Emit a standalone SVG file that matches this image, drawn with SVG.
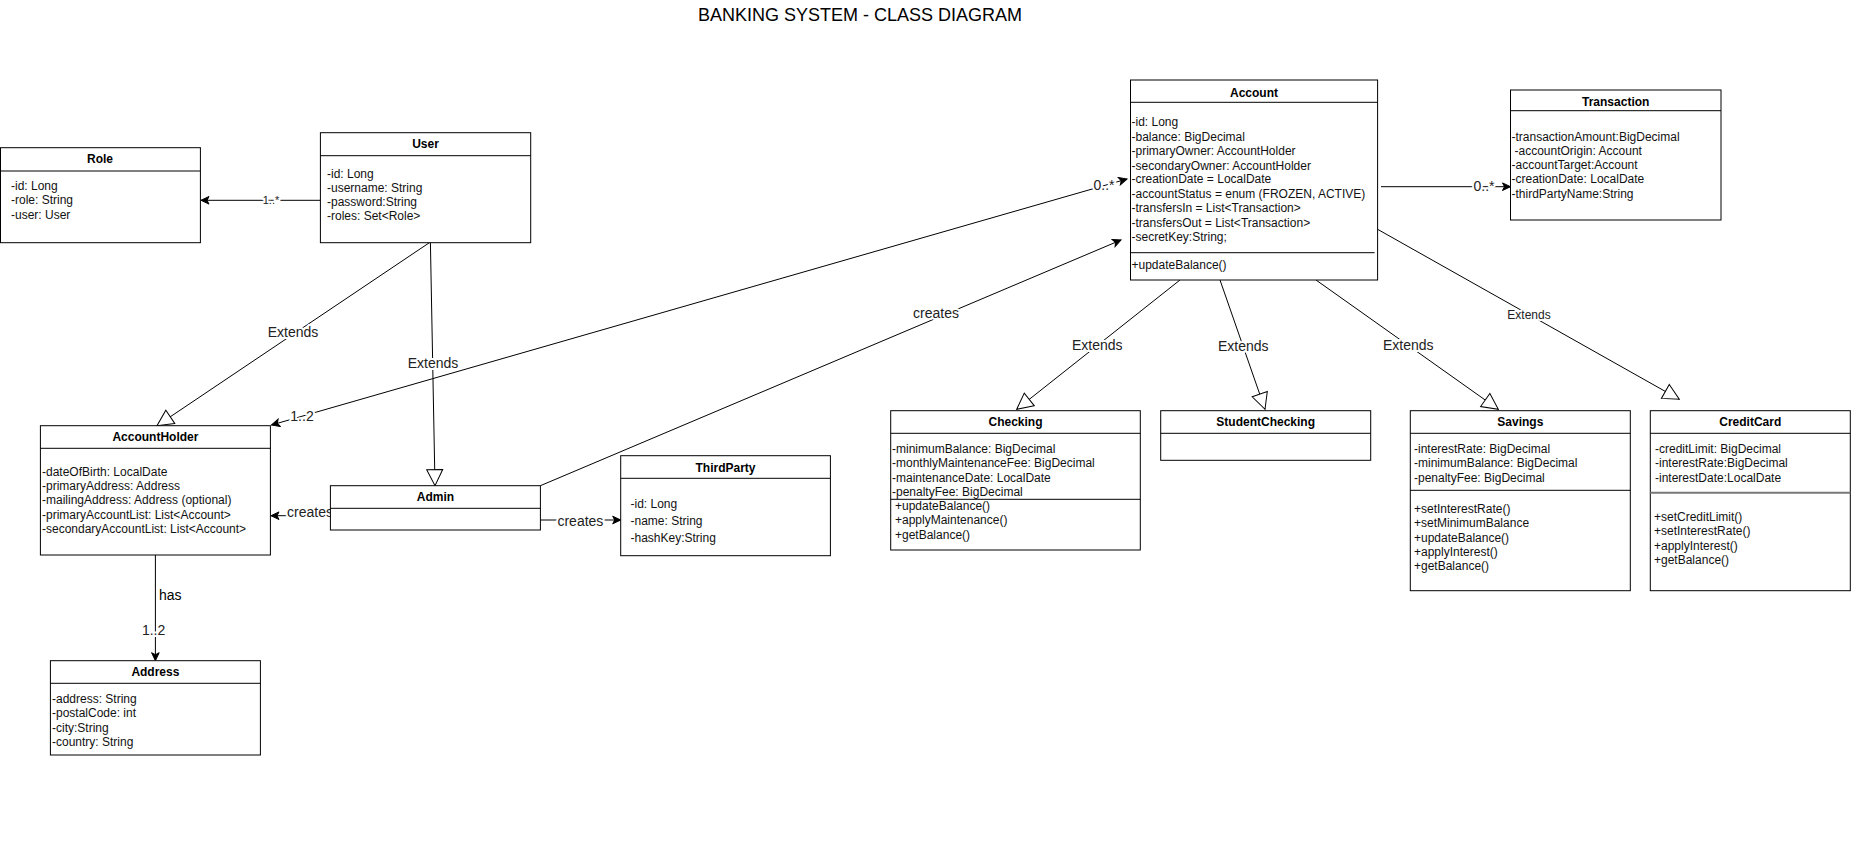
<svg xmlns="http://www.w3.org/2000/svg" width="1853" height="856" viewBox="0 0 1853 856">
<style>
.bg{fill:#fff}
.box{fill:#fff;stroke:#000;stroke-width:1}
.ln{stroke:#000;stroke-width:1;fill:none}
text{font-family:"Liberation Sans",Arial,Helvetica,sans-serif;fill:#000}
.t{font-size:12px;fill:#111}
.h{font-size:12px;font-weight:bold;text-anchor:middle}
.lbl{font-size:14px;text-anchor:middle;paint-order:stroke;stroke:#fff;stroke-width:4px;stroke-linejoin:round;fill:#222}
.sm{font-size:11px}
.md{font-size:12px}
.edge{stroke:#000;stroke-width:1;fill:none}
.ext{marker-end:url(#tri)}
.as{marker-end:url(#arr)}
</style>
<defs>
<marker id="arr" viewBox="0 0 10 10" refX="9" refY="5" markerWidth="10" markerHeight="10" markerUnits="userSpaceOnUse" orient="auto-start-reverse"><path d="M1,1.2 L9,5 L1,8.8 L3,5 Z" fill="#000" stroke="#000" stroke-width="1"/></marker>
<marker id="tri" viewBox="0 0 18 18" refX="17" refY="9" markerWidth="18" markerHeight="18" markerUnits="userSpaceOnUse" orient="auto"><path d="M1,1 L17,9 L1,17 Z" fill="#fff" stroke="#000" stroke-width="1"/></marker>
</defs>
<rect class="bg" x="0" y="0" width="1853" height="856"/>
<text x="860" y="20.5" font-size="18" text-anchor="middle" fill="#111">BANKING SYSTEM - CLASS DIAGRAM</text>

<g id="connectors">
<path class="edge as" d="M320.4,200.3 L201,200.3"/>
<text class="lbl sm" x="271" y="204">1..*</text>
<path class="edge ext" d="M430.4,242 L157,425.7"/>
<text class="lbl" x="293" y="337">Extends</text>
<path class="edge ext" d="M430.4,242 L435,485.7"/>
<text class="lbl" x="433" y="368">Extends</text>
<path class="edge" d="M1127,179 L271.5,425" marker-start="url(#arr)" marker-end="url(#arr)"/>
<text class="lbl" x="302" y="421">1..2</text>
<text class="lbl" x="1104" y="190">0..*</text>
<path class="edge as" d="M540.4,485.7 L1121,240"/>
<text class="lbl" x="936" y="318">creates</text>
<path class="edge as" d="M330.4,515.7 L271,515.7"/>
<text class="lbl" x="310" y="517">creates</text>
<path class="edge as" d="M540.4,520 L620.7,520"/>
<text class="lbl" x="580.4" y="526">creates</text>
<path class="edge as" d="M155.4,555 L155.4,660.7"/>
<text x="159" y="600" font-size="14" fill="#222">has</text>
<text class="lbl" x="153.6" y="635">1..2</text>
<path class="edge as" d="M1381,186.7 L1510.5,186.7"/>
<text class="lbl" x="1484" y="191">0..*</text>
<path class="edge ext" d="M1180,280 L1016.7,409.3"/>
<text class="lbl" x="1097.3" y="350">Extends</text>
<path class="edge ext" d="M1220,280 L1265,409.3"/>
<text class="lbl" x="1243.3" y="351">Extends</text>
<path class="edge ext" d="M1316,280 L1498.3,409.3"/>
<text class="lbl" x="1408.3" y="350">Extends</text>
<path class="edge ext" d="M1377.6,229.3 L1679.3,399.3"/>
<text class="lbl md" x="1529" y="318.5">Extends</text>
</g>

<g id="Role">
<rect class="box" x="0.5" y="147.7" width="199.9" height="95"/>
<line class="ln" x1="0.5" y1="171" x2="200.4" y2="171"/>
<text class="h" x="100" y="163.3">Role</text>
<text class="t" x="11" y="190">-id: Long</text>
<text class="t" x="11" y="204.3">-role: String</text>
<text class="t" x="11" y="219">-user: User</text>
</g>

<g id="User">
<rect class="box" x="320.4" y="132.7" width="210.3" height="110"/>
<line class="ln" x1="320.4" y1="155.7" x2="530.7" y2="155.7"/>
<text class="h" x="425.5" y="148.3">User</text>
<text class="t" x="327" y="177.5">-id: Long</text>
<text class="t" x="327" y="191.7">-username: String</text>
<text class="t" x="327" y="206.2">-password:String</text>
<text class="t" x="327" y="220.4">-roles: Set&lt;Role&gt;</text>
</g>

<g id="AccountHolder">
<rect class="box" x="40.4" y="425.7" width="230" height="129.3"/>
<line class="ln" x1="40.4" y1="448.3" x2="270.4" y2="448.3"/>
<text class="h" x="155.4" y="441">AccountHolder</text>
<text class="t" x="42" y="476.3">-dateOfBirth: LocalDate</text>
<text class="t" x="42" y="490.3">-primaryAddress: Address</text>
<text class="t" x="42" y="504.3">-mailingAddress: Address (optional)</text>
<text class="t" x="42" y="519">-primaryAccountList: List&lt;Account&gt;</text>
<text class="t" x="42" y="533">-secondaryAccountList: List&lt;Account&gt;</text>
</g>

<g id="Address">
<rect class="box" x="50.4" y="660.7" width="210" height="94.3"/>
<line class="ln" x1="50.4" y1="683.3" x2="260.4" y2="683.3"/>
<text class="h" x="155.4" y="676">Address</text>
<text class="t" x="52" y="702.5">-address: String</text>
<text class="t" x="52" y="716.9">-postalCode: int</text>
<text class="t" x="52" y="731.9">-city:String</text>
<text class="t" x="52" y="745.9">-country: String</text>
</g>

<g id="Admin">
<rect class="box" x="330.4" y="485.7" width="210" height="44.3"/>
<line class="ln" x1="330.4" y1="508.3" x2="540.4" y2="508.3"/>
<text class="h" x="435.4" y="501">Admin</text>
</g>

<g id="ThirdParty">
<rect class="box" x="620.7" y="455.7" width="209.7" height="100"/>
<line class="ln" x1="620.7" y1="478.3" x2="830.4" y2="478.3"/>
<text class="h" x="725.5" y="471.5">ThirdParty</text>
<text class="t" x="630.5" y="507.6">-id: Long</text>
<text class="t" x="630.5" y="524.6">-name: String</text>
<text class="t" x="630.5" y="541.6">-hashKey:String</text>
</g>

<g id="Account">
<rect class="box" x="1130.5" y="80" width="247.1" height="200"/>
<line class="ln" x1="1130.5" y1="102.3" x2="1377.6" y2="102.3"/>
<text class="h" x="1254" y="97">Account</text>
<text class="t" x="1131.5" y="126">-id: Long</text>
<text class="t" x="1131.5" y="140.5">-balance: BigDecimal</text>
<text class="t" x="1131.5" y="155">-primaryOwner: AccountHolder</text>
<text class="t" x="1131.5" y="169.8">-secondaryOwner: AccountHolder</text>
<text class="t" x="1131.5" y="183.3">-creationDate = LocalDate</text>
<text class="t" x="1131.5" y="197.6">-accountStatus = enum (FROZEN, ACTIVE)</text>
<text class="t" x="1131.5" y="212">-transfersIn = List&lt;Transaction&gt;</text>
<text class="t" x="1131.5" y="226.5">-transfersOut = List&lt;Transaction&gt;</text>
<text class="t" x="1131.5" y="241">-secretKey:String;</text>
<line class="ln" x1="1130.5" y1="252.7" x2="1374.6" y2="252.7"/>
<text class="t" x="1131.5" y="269.3">+updateBalance()</text>
</g>

<g id="Transaction">
<rect class="box" x="1510.5" y="90" width="210.5" height="130"/>
<line class="ln" x1="1510.5" y1="110.7" x2="1721" y2="110.7"/>
<text class="h" x="1615.7" y="106">Transaction</text>
<text class="t" x="1511.5" y="141">-transactionAmount:BigDecimal</text>
<text class="t" x="1514.5" y="155">-accountOrigin: Account</text>
<text class="t" x="1511.5" y="169.3">-accountTarget:Account</text>
<text class="t" x="1511.5" y="183.3">-creationDate: LocalDate</text>
<text class="t" x="1511.5" y="197.6">-thirdPartyName:String</text>
</g>

<g id="Checking">
<rect class="box" x="890.7" y="410.7" width="249.6" height="139.3"/>
<line class="ln" x1="890.7" y1="433.3" x2="1140.3" y2="433.3"/>
<text class="h" x="1015.5" y="426">Checking</text>
<text class="t" x="892" y="453.3">-minimumBalance: BigDecimal</text>
<text class="t" x="892" y="467.3">-monthlyMaintenanceFee: BigDecimal</text>
<text class="t" x="892" y="482">-maintenanceDate: LocalDate</text>
<text class="t" x="892" y="496.3">-penaltyFee: BigDecimal</text>
<line class="ln" x1="890.7" y1="499.3" x2="1140.3" y2="499.3"/>
<text class="t" x="895" y="510">+updateBalance()</text>
<text class="t" x="895" y="524.3">+applyMaintenance()</text>
<text class="t" x="895" y="539">+getBalance()</text>
</g>

<g id="StudentChecking">
<rect class="box" x="1160.7" y="410.7" width="210" height="49.6"/>
<line class="ln" x1="1160.7" y1="433.3" x2="1370.7" y2="433.3"/>
<text class="h" x="1265.7" y="426">StudentChecking</text>
</g>

<g id="Savings">
<rect class="box" x="1410.3" y="410.7" width="220" height="180"/>
<line class="ln" x1="1410.3" y1="433.3" x2="1630.3" y2="433.3"/>
<text class="h" x="1520.3" y="426">Savings</text>
<text class="t" x="1414" y="453.3">-interestRate: BigDecimal</text>
<text class="t" x="1414" y="467.3">-minimumBalance: BigDecimal</text>
<text class="t" x="1414" y="482">-penaltyFee: BigDecimal</text>
<line class="ln" x1="1410.3" y1="490.3" x2="1630.3" y2="490.3"/>
<text class="t" x="1414" y="513.3">+setInterestRate()</text>
<text class="t" x="1414" y="527">+setMinimumBalance</text>
<text class="t" x="1414" y="542">+updateBalance()</text>
<text class="t" x="1414" y="556.3">+applyInterest()</text>
<text class="t" x="1414" y="570">+getBalance()</text>
</g>

<g id="CreditCard">
<rect class="box" x="1650.3" y="410.7" width="200" height="180"/>
<line class="ln" x1="1650.3" y1="433.3" x2="1850.3" y2="433.3"/>
<text class="h" x="1750.3" y="426">CreditCard</text>
<text class="t" x="1655" y="453.3">-creditLimit: BigDecimal</text>
<text class="t" x="1655" y="467.3">-interestRate:BigDecimal</text>
<text class="t" x="1655" y="482">-interestDate:LocalDate</text>
<line x1="1650.3" y1="492.7" x2="1850.3" y2="492.7" stroke="#777" stroke-width="2"/>
<text class="t" x="1654" y="521">+setCreditLimit()</text>
<text class="t" x="1654" y="535">+setInterestRate()</text>
<text class="t" x="1654" y="550">+applyInterest()</text>
<text class="t" x="1654" y="564">+getBalance()</text>
</g>
</svg>
